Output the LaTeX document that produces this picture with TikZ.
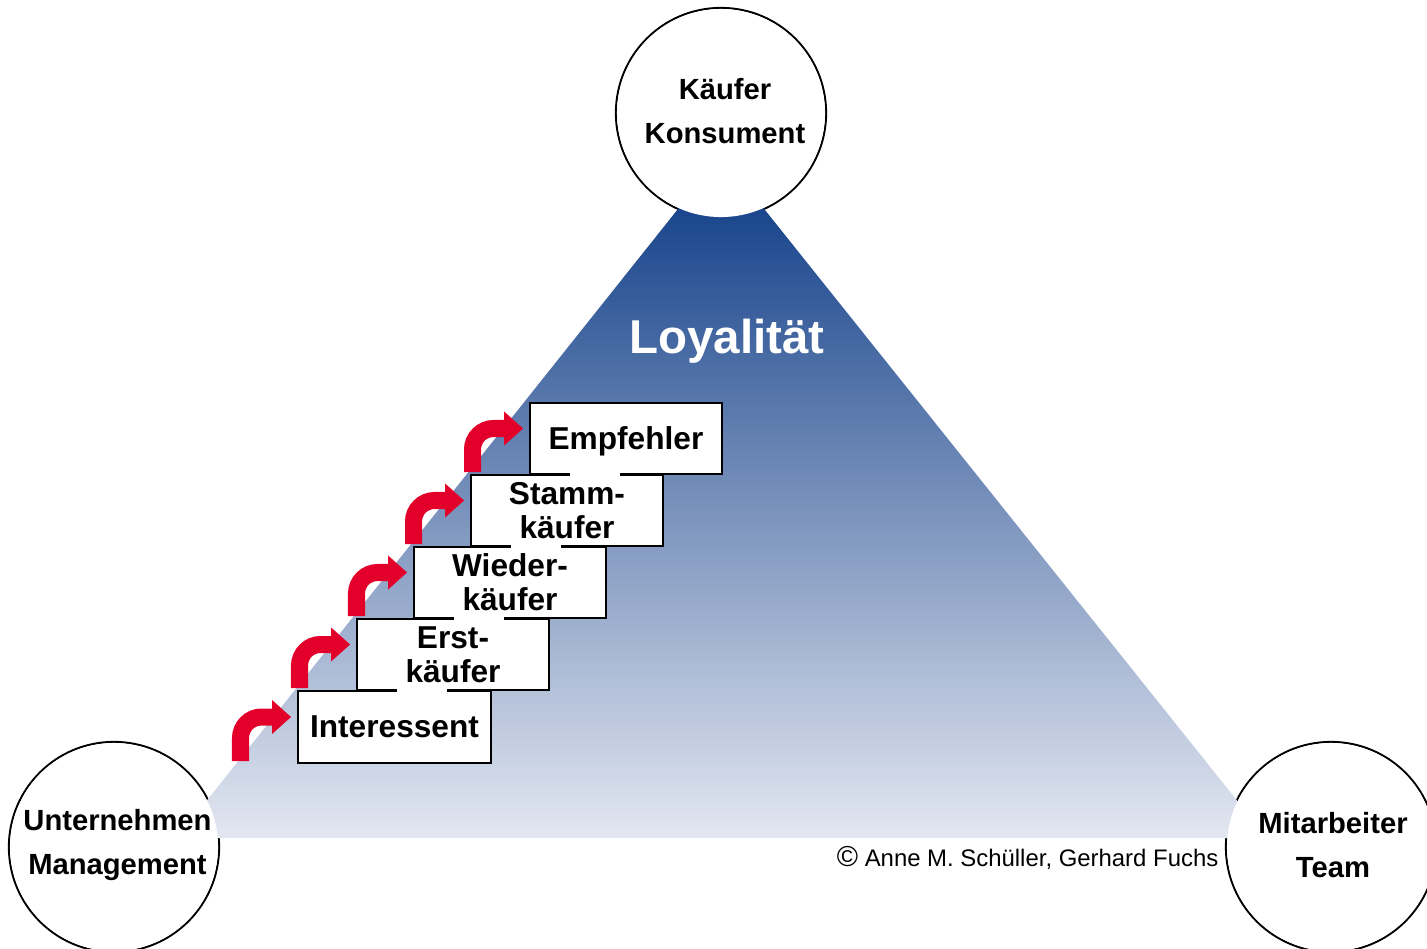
\documentclass[tikz,border=0pt]{standalone}
\usepackage{fontspec}
\setmainfont{Liberation Sans}
\usetikzlibrary{arrows.meta}
\definecolor{stepred}{RGB}{226,0,42}
\definecolor{pyrtop}{RGB}{9,56,132}
\definecolor{pyrbottom}{RGB}{227,231,241}

\begin{document}
\begin{tikzpicture}[x=0.01cm,y=-0.01cm,
  circ/.style={circle, draw=black, line width=0.6pt, minimum size=2.1cm, inner sep=0pt},
  circtext/.style={align=center, inner sep=0pt, font=\bfseries\fontsize{8.3}{12.4}\selectfont},
  stepbox/.style={draw=black, line width=0.5pt, fill=white, minimum width=1.92cm,
    minimum height=0.715cm, inner sep=0pt, align=center,
    font=\bfseries\fontsize{9}{9.7}\selectfont},
  stepgap/.style={fill=white},
  steparrow/.style={draw=stepred, line width=0.17cm, rounded corners=0.21cm, shorten >=0.06cm,
    -{Triangle[length=0.19cm, width=0.34cm, line width=0pt]}}
]
\useasboundingbox (0,0) rectangle (1427,948);
\clip (0,0) rectangle (1427,948);

% the three poles (outlines first, so the pyramid hides them where it overlaps)
\node[circ] (kaeufer) at (721,113) {};
\node[circ] (unternehmen) at (114,847) {};
\node[circ] (mitarbeiter) at (1331,847) {};

% loyalty pyramid
\shade[top color=pyrtop, bottom color=pyrbottom] (721,155) -- (177,838) -- (1267,838) -- cycle;

% circle interiors stay white above the pyramid
\foreach \c in {kaeufer,unternehmen,mitarbeiter}
  \fill[white] (\c.center) circle[radius=1.04cm];

\node[circtext] (kaeufer-text) at (725,111) {Käufer\\Konsument};
\node[circtext] (unternehmen-text) at (117.5,845) {Unternehmen\\Management};
\node[circtext] (mitarbeiter-text) at (1333,845) {Mitarbeiter\\Team};

\node[text=white, inner sep=0pt, font=\bfseries\fontsize{13.5}{16}\selectfont] (loyal) at (727,341) {Loyalität};

% staircase of customer stages
\node[stepbox, text depth=0pt] (empf) at (626,438.5) {Empfehler};
\node[stepbox] (stamm) at (567,510.5) {Stamm-\\käufer};
\node[stepbox] (wieder) at (510,582.5) {Wieder-\\käufer};
\node[stepbox] (erst) at (453,654.5) {Erst-\\käufer};
\node[stepbox, text depth=0pt, minimum width=1.93cm] (inter) at (394.5,727) {Interessent};

% small breaks in the shared edges between steps
\fill[stepgap] (570,473) rectangle (620,476);
\fill[stepgap] (511,545) rectangle (561,548);
\fill[stepgap] (454,617) rectangle (504,620);
\fill[stepgap] (397,689) rectangle (447,692);

% red step arrows
\coordinate (a1) at (240.5,761);
\coordinate (a2) at (299.5,688);
\coordinate (a3) at (356.5,616);
\coordinate (a4) at (413.5,544);
\coordinate (a5) at (472.5,472);
\draw[steparrow] (a1) |- ([yshift=0.1cm]inter.west);
\draw[steparrow] (a2) |- ([yshift=0.1cm]erst.west);
\draw[steparrow] (a3) |- ([yshift=0.1cm]wieder.west);
\draw[steparrow] (a4) |- ([yshift=0.1cm]stamm.west);
\draw[steparrow] (a5) |- ([yshift=0.1cm]empf.west);

\node[anchor=east, inner sep=0pt, font=\fontsize{6.8}{8}\selectfont] (copyright) at (1219,858)
  {{\fontsize{8.2}{8}\selectfont ©} Anne M. Schüller, Gerhard Fuchs};
\end{tikzpicture}
\end{document}
